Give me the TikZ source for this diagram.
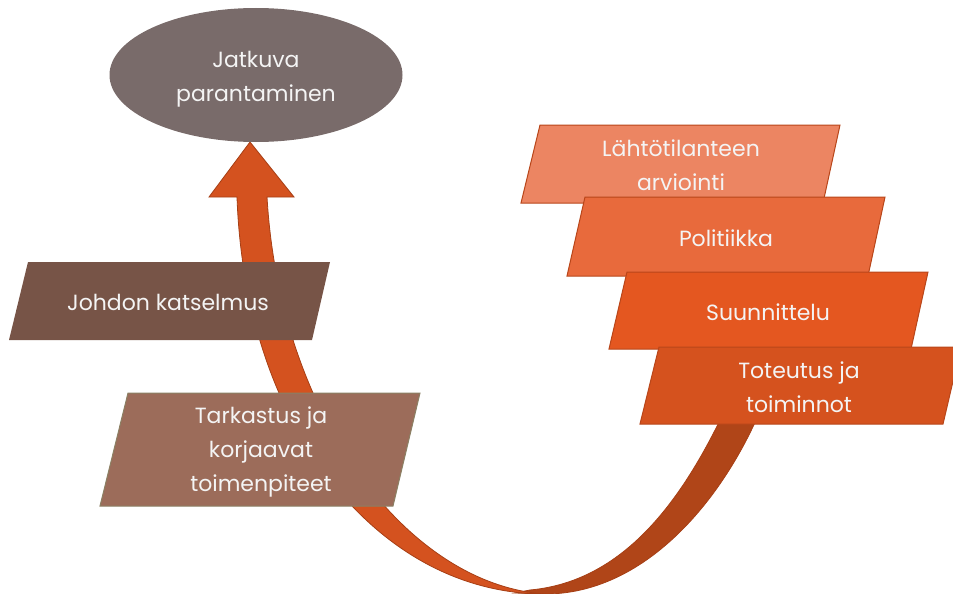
\documentclass[tikz,border=0pt]{standalone}
\usepackage{fontspec}
\setmainfont{Poppins}
\usetikzlibrary{shapes.geometric}

\definecolor{goalfill}{HTML}{796B6A}
\definecolor{stepA}{HTML}{EC8562}
\definecolor{stepB}{HTML}{E86A3C}
\definecolor{stepC}{HTML}{E45720}
\definecolor{stepD}{HTML}{D5521E}
\definecolor{stepedge}{HTML}{B8461A}
\definecolor{reviewfill}{HTML}{775447}
\definecolor{checkfill}{HTML}{9C6C5A}
\definecolor{checkedge}{HTML}{8B8064}
\definecolor{bandfront}{HTML}{D4521F}
\definecolor{bandback}{HTML}{B04518}
\definecolor{bandedge}{HTML}{A63F15}
\definecolor{txt}{HTML}{F4F4F4}

\begin{document}
\begin{tikzpicture}[x=1pt,y=-1pt,
  lbl/.style={text=txt, align=center, inner sep=0pt,
              font=\fontsize{22}{34}\selectfont},
  stepbox/.style={draw=stepedge, line width=1pt, line join=miter},
  band/.style={draw=bandedge, line width=0.8pt, line join=miter}]
\useasboundingbox (0,0) rectangle (953,594);
\clip (0,0) rectangle (953,594);

% back face of the curved arrow (rising to the right, behind the steps)
\path[band, fill=bandback]
  (775,370) .. controls (745,470) and (660,594) .. (545,594)
  -- (515,593) -- (530,590)
  .. controls (640,580) and (700,470) .. (742,372) -- cycle;

% front face of the curved arrow with its head
\path[band, fill=bandfront]
  (545,594) .. controls (380,594) and (245,430) .. (237,197)
  -- (209,197) -- (250,142) -- (294,197) -- (267,197)
  .. controls (280,420) and (410,585) .. (545,594) -- cycle;

% goal
\node[ellipse, fill=goalfill, minimum width=293pt, minimum height=134pt,
      inner sep=0pt] (goal) at (256,75) {};
\node[lbl] (goaltext) at (256,79) {Jatkuva\\parantaminen};

% steps on the right
\path[stepbox, fill=stepA] (540,125) -- (840,125) -- (823,203) -- (521,203) -- cycle;
\node[lbl] (start) at (681,165) {Lähtötilanteen\\arviointi};

\path[stepbox, fill=stepB] (585,197) -- (885,197) -- (868,276) -- (567,276) -- cycle;
\node[lbl] (policy) at (726,238) {Politiikka};

\path[stepbox, fill=stepC] (627,272) -- (928,272) -- (911,349) -- (609,349) -- cycle;
\node[lbl] (plan) at (768,312) {Suunnittelu};

\path[stepbox, fill=stepD] (659,347) -- (961,347) -- (943,424) -- (640,424) -- cycle;
\node[lbl] (doing) at (799,387) {Toteutus ja\\toiminnot};

% steps on the left
\path[fill=reviewfill] (28,262) -- (330,262) -- (312,340) -- (9,340) -- cycle;
\node[lbl] (review) at (168,302) {Johdon katselmus};

\path[draw=checkedge, line width=1pt, fill=checkfill] (128,393) -- (420,393) -- (393,506) -- (100,506) -- cycle;
\node[lbl] (check) at (261,452) {Tarkastus ja\\korjaavat\\toimenpiteet};
\end{tikzpicture}
\end{document}
